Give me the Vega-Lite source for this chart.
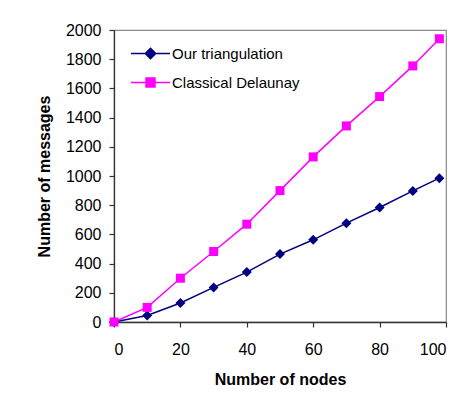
{
  "$schema": "https://vega.github.io/schema/vega-lite/v6.json",
  "autosize": {"type": "none"},
  "padding": {"left": 114, "top": 30, "right": 25, "bottom": 88},
  "width": 332,
  "height": 292,
  "background": "white",
  "config": {
    "font": "Liberation Sans",
    "view": {"stroke": "#888888", "strokeWidth": 1.2},
    "axis": {
      "labelFont": "Liberation Sans",
      "titleFont": "Liberation Sans",
      "labelFontSize": 16,
      "titleFontSize": 16,
      "titleFontWeight": "bold",
      "labelColor": "black",
      "titleColor": "black",
      "domainColor": "#333333",
      "tickColor": "#333333",
      "domainWidth": 1.3,
      "tickWidth": 1.2,
      "tickSize": 5,
      "grid": false,
      "format": "d"
    }
  },
  "data": {
    "values": [
      {"nodes": 0, "messages": 0, "series": "Our triangulation"},
      {"nodes": 10, "messages": 45, "series": "Our triangulation"},
      {"nodes": 20, "messages": 130, "series": "Our triangulation"},
      {"nodes": 30, "messages": 237, "series": "Our triangulation"},
      {"nodes": 40, "messages": 342, "series": "Our triangulation"},
      {"nodes": 50, "messages": 465, "series": "Our triangulation"},
      {"nodes": 60, "messages": 563, "series": "Our triangulation"},
      {"nodes": 70, "messages": 677, "series": "Our triangulation"},
      {"nodes": 80, "messages": 784, "series": "Our triangulation"},
      {"nodes": 90, "messages": 898, "series": "Our triangulation"},
      {"nodes": 98, "messages": 985, "series": "Our triangulation"},
      {"nodes": 0, "messages": 0, "series": "Classical Delaunay"},
      {"nodes": 10, "messages": 100, "series": "Classical Delaunay"},
      {"nodes": 20, "messages": 300, "series": "Classical Delaunay"},
      {"nodes": 30, "messages": 483, "series": "Classical Delaunay"},
      {"nodes": 40, "messages": 670, "series": "Classical Delaunay"},
      {"nodes": 50, "messages": 900, "series": "Classical Delaunay"},
      {"nodes": 60, "messages": 1131, "series": "Classical Delaunay"},
      {"nodes": 70, "messages": 1343, "series": "Classical Delaunay"},
      {"nodes": 80, "messages": 1544, "series": "Classical Delaunay"},
      {"nodes": 90, "messages": 1754, "series": "Classical Delaunay"},
      {"nodes": 98, "messages": 1940, "series": "Classical Delaunay"}
    ]
  },
  "encoding": {
    "x": {
      "field": "nodes", "type": "quantitative",
      "scale": {"domain": [0, 100], "nice": false},
      "axis": {"values": [0, 20, 40, 60, 80, 100], "title": "Number of nodes", "labelPadding": 14, "titlePadding": 14}
    },
    "y": {
      "field": "messages", "type": "quantitative",
      "scale": {"domain": [0, 2000], "nice": false},
      "axis": {"values": [0, 200, 400, 600, 800, 1000, 1200, 1400, 1600, 1800, 2000], "title": "Number of messages", "labelPadding": 8, "titlePadding": 13}
    },
    "color": {
      "field": "series", "type": "nominal",
      "scale": {"domain": ["Our triangulation", "Classical Delaunay"], "range": ["#000080", "#FF00FF"]},
      "legend": {
        "title": null,
        "orient": "none",
        "legendX": 16,
        "legendY": 3,
        "padding": 0,
        "labelFont": "Liberation Sans",
        "labelFontSize": 15,
        "labelColor": "black",
        "labelOffset": 1,
        "symbolSize": 1521,
        "symbolStrokeWidth": 1.5,
        "symbolOpacity": 1,
        "rowPadding": -1,
        "encode": {
          "symbols": {
            "update": {
              "shape": {"signal": "datum.value === 'Our triangulation' ? 'M-1,0H1M0,-0.27L0.27,0L0,0.27L-0.27,0Z' : 'M-1,0H1M-0.23,-0.23H0.23V0.23H-0.23Z'"},
              "fill": {"signal": "datum.value === 'Our triangulation' ? '#000080' : '#FF00FF'"},
              "stroke": {"signal": "datum.value === 'Our triangulation' ? '#000080' : '#FF00FF'"},
              "fillOpacity": {"value": 1},
              "opacity": {"value": 1},
              "size": {"value": 1521},
              "strokeWidth": {"value": 1.5}
            }
          }
        }
      }
    }
  },
  "layer": [
    {"mark": {"type": "line", "strokeWidth": 1.5}},
    {
      "transform": [{"filter": "datum.series === 'Our triangulation'"}],
      "mark": {"type": "point", "filled": true, "opacity": 1, "shape": "diamond", "size": 100}
    },
    {
      "transform": [{"filter": "datum.series === 'Classical Delaunay'"}],
      "mark": {"type": "point", "filled": true, "opacity": 1, "shape": "square", "size": 81}
    }
  ]
}
